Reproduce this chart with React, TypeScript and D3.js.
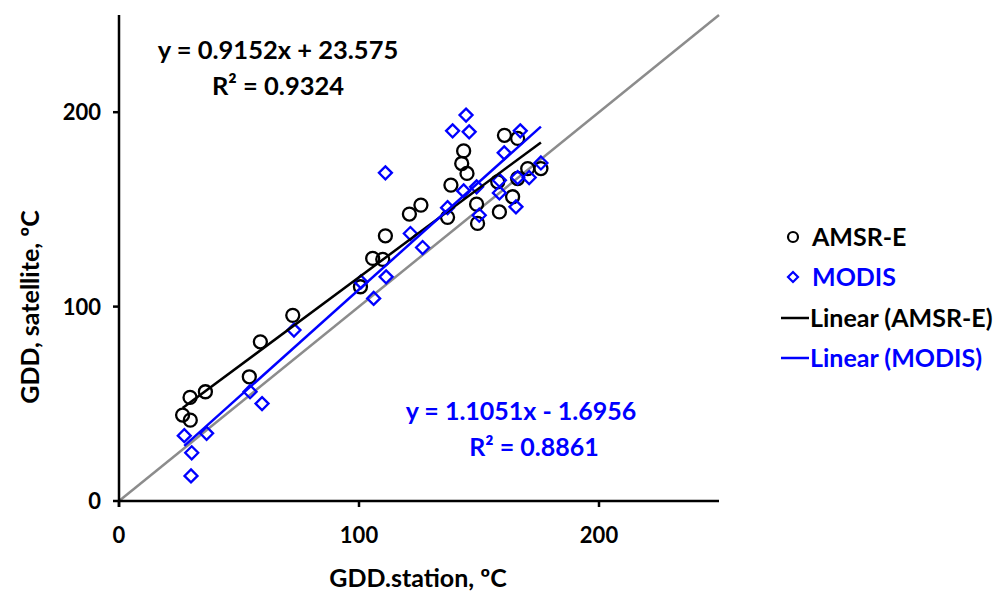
import React from "react";
import * as d3 from "d3";

const amsrX = [26.5, 29.7, 29.6, 36.0, 54.3, 58.9, 72.4, 100.6, 105.7, 109.9, 111.0, 121.0, 125.8, 136.9, 138.3, 142.8, 143.6, 145.0, 149.0, 149.4, 157.8, 158.5, 160.6, 166.1, 164.0, 166.1, 170.3, 175.8];
const amsrY = [44.2, 41.6, 53.3, 56.2, 63.9, 81.9, 95.5, 110.2, 124.8, 124.3, 136.4, 147.6, 152.2, 145.9, 162.5, 173.6, 180.1, 168.5, 152.7, 142.8, 164.2, 148.7, 188.1, 186.5, 156.5, 165.9, 171.0, 171.0];
const modisX = [27.2, 30.3, 30.0, 36.5, 54.6, 59.6, 72.9, 100.8, 106.1, 111.3, 111.0, 121.4, 126.5, 136.9, 139.0, 144.6, 145.9, 143.6, 149.0, 150.1, 158.5, 158.5, 160.5, 165.4, 166.1, 167.2, 170.9, 175.8];
const modisY = [33.6, 24.8, 12.9, 34.8, 56.2, 50.1, 87.9, 112.7, 104.2, 115.3, 168.8, 137.6, 130.4, 150.9, 190.4, 198.5, 189.9, 159.5, 161.6, 147.0, 165.0, 158.5, 179.1, 151.3, 166.4, 190.4, 166.4, 173.9];

const amsrFit = { slope: 0.9152, intercept: 23.575, r2: "0.9324" };
const modisFit = { slope: 1.1051, intercept: -1.6956, r2: "0.8861" };

const xTicks = [0, 100, 200];
const yTicks = [0, 100, 200];
const domainMax = 250;

const BLUE = "#0000ff";
const FONT = "Lato, 'Open Sans', sans-serif";

export default function App() {
  const x = d3.scaleLinear().domain([0, domainMax]).range([119, 719]);
  const y = d3.scaleLinear().domain([0, domainMax]).range([501, 15]);

  const amsr = amsrX.map((v, i) => [v, amsrY[i]] as [number, number]);
  const modis = modisX.map((v, i) => [v, modisY[i]] as [number, number]);

  const line = d3.line<[number, number]>().x((d) => x(d[0])).y((d) => y(d[1]));
  const fitLine = (xs: number[], f: { slope: number; intercept: number }) => {
    const lo = d3.min(xs)!;
    const hi = d3.max(xs)!;
    return line([
      [lo, f.slope * lo + f.intercept],
      [hi, f.slope * hi + f.intercept],
    ]);
  };
  const diamond = (cx: number, cy: number, r: number) =>
    `M${cx},${cy - r}L${cx + r},${cy}L${cx},${cy + r}L${cx - r},${cy}Z`;

  return (
    <div style={{ position: "fixed", left: 0, top: 0 }}>
      <svg width={1003} height={591} style={{ display: "block", background: "#fff" }} fontFamily={FONT} fontWeight="bold">
        {/* 1:1 line */}
        <path d={line([[0, 0], [domainMax, domainMax]])!} stroke="#8c8c8c" strokeWidth={2.5} fill="none" />

        {/* markers */}
        {amsr.map((d, i) => (
          <circle key={"a" + i} cx={x(d[0])} cy={y(d[1])} r={6.5} fill="none" stroke="#000" strokeWidth={2.3} />
        ))}
        {modis.map((d, i) => (
          <path key={"m" + i} d={diamond(x(d[0]), y(d[1]), 6.5)} fill="none" stroke={BLUE} strokeWidth={2.3} />
        ))}

        {/* trend lines */}
        <path d={fitLine(amsrX, amsrFit)!} stroke="#000" strokeWidth={2.5} fill="none" />
        <path d={fitLine(modisX, modisFit)!} stroke={BLUE} strokeWidth={2.5} fill="none" />

        {/* axes */}
        <line x1={x(0)} x2={x(domainMax)} y1={y(0)} y2={y(0)} stroke="#000" strokeWidth={2.5} />
        <line x1={x(0)} x2={x(0)} y1={y(0) + 6} y2={y(domainMax)} stroke="#000" strokeWidth={2.5} />
        {xTicks.map((t) => (
          <g key={"xt" + t}>
            <line x1={x(t)} x2={x(t)} y1={y(0)} y2={y(0) + 6} stroke="#000" strokeWidth={2.5} />
            <text x={x(t)} y={y(0) + 42} textAnchor="middle" fontSize={22}>{t}</text>
          </g>
        ))}
        {yTicks.map((t) => (
          <g key={"yt" + t}>
            <line x1={x(0) - 6} x2={x(0)} y1={y(t)} y2={y(t)} stroke="#000" strokeWidth={2.5} />
            <text x={x(0) - 18} y={y(t) + 8} textAnchor="end" fontSize={22}>{t}</text>
          </g>
        ))}

        {/* axis titles */}
        <text x={418} y={587} textAnchor="middle" fontSize={25}>GDD.station, ºC</text>
        <text transform="translate(39,307) rotate(-90)" textAnchor="middle" fontSize={25}>GDD, satellite, ºC</text>

        {/* equations */}
        <text x={278} y={59} textAnchor="middle" fontSize={25.5}>{`y = ${amsrFit.slope}x + ${amsrFit.intercept}`}</text>
        <text x={278} y={95} textAnchor="middle" fontSize={25.5}>{`R² = ${amsrFit.r2}`}</text>
        <text x={521} y={420} textAnchor="middle" fontSize={25} fill={BLUE}>{`y = ${modisFit.slope}x - ${Math.abs(modisFit.intercept)}`}</text>
        <text x={534} y={456} textAnchor="middle" fontSize={25} fill={BLUE}>{`R² = ${modisFit.r2}`}</text>

        {/* legend */}
        <circle cx={793} cy={237} r={5} fill="none" stroke="#000" strokeWidth={2.2} />
        <text x={812} y={246} fontSize={25}>AMSR-E</text>
        <path d={diamond(793, 277, 5)} fill="none" stroke={BLUE} strokeWidth={2.2} />
        <text x={812} y={286} fontSize={25} fill={BLUE}>MODIS</text>
        <line x1={781} x2={809} y1={318} y2={318} stroke="#000" strokeWidth={2.5} />
        <text x={810} y={327} fontSize={25}>Linear (AMSR-E)</text>
        <line x1={781} x2={809} y1={358} y2={358} stroke={BLUE} strokeWidth={2.5} />
        <text x={810} y={367} fontSize={25} fill={BLUE}>Linear (MODIS)</text>
      </svg>
    </div>
  );
}
